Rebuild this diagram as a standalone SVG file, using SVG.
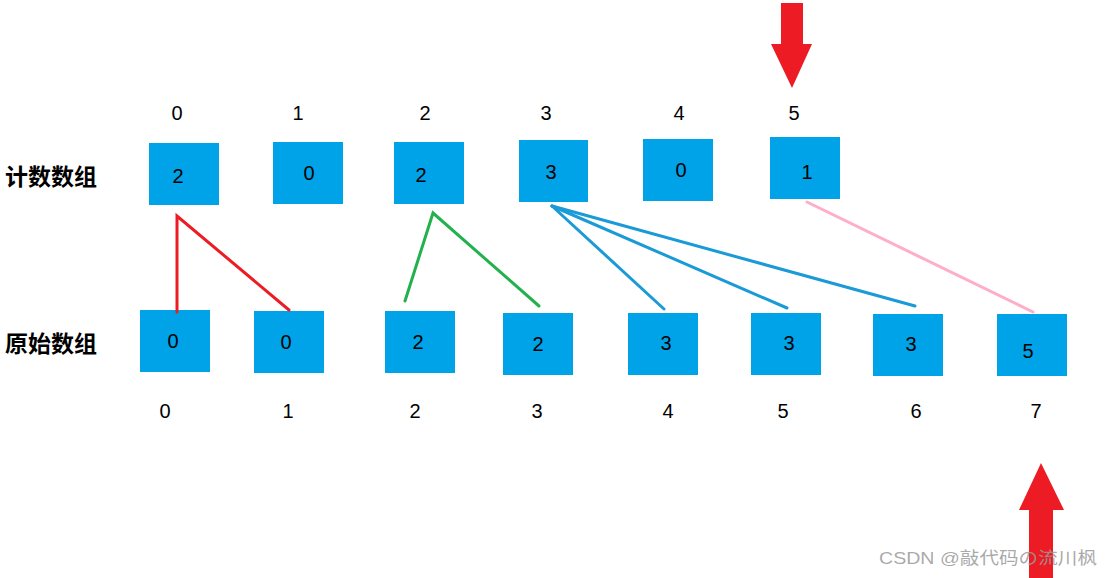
<svg xmlns="http://www.w3.org/2000/svg" width="1105" height="578" viewBox="0 0 1105 578">
<style>
.box{fill:#00A2E8}
.num{font-family:"Liberation Sans",Arial,sans-serif;font-size:20px;fill:#000;text-anchor:middle;dominant-baseline:central}
.lbl{font-family:"Noto Sans CJK SC","Liberation Sans",sans-serif;font-size:23px;font-weight:bold;fill:#000;dominant-baseline:central}
.ln{fill:none;stroke-width:3;stroke-linecap:round}
.arrow{fill:#ED1C24}
</style>
<rect width="1105" height="578" fill="#fff"/>
<g id="labels">
<text class="lbl" x="5" y="175">计数数组</text>
<text class="lbl" x="5" y="342">原始数组</text>
</g>
<g id="top-index">
<text class="num" x="177" y="113">0</text>
<text class="num" x="298" y="113">1</text>
<text class="num" x="425" y="113">2</text>
<text class="num" x="546" y="113">3</text>
<text class="num" x="679" y="113">4</text>
<text class="num" x="794" y="113">5</text>
</g>
<g id="count0"><rect class="box" x="149" y="143" width="70" height="62"/><text class="num" x="178" y="176">2</text></g>
<g id="count1"><rect class="box" x="273" y="142" width="70" height="62"/><text class="num" x="309" y="173">0</text></g>
<g id="count2"><rect class="box" x="394" y="142" width="70" height="62"/><text class="num" x="421" y="175">2</text></g>
<g id="count3"><rect class="box" x="519" y="140" width="69" height="62"/><text class="num" x="551" y="172">3</text></g>
<g id="count4"><rect class="box" x="643" y="139" width="70" height="62"/><text class="num" x="681" y="170">0</text></g>
<g id="count5"><rect class="box" x="770" y="137" width="70" height="62"/><text class="num" x="807" y="172">1</text></g>
<g id="orig0"><rect class="box" x="140" y="310" width="70" height="62"/><text class="num" x="173" y="341">0</text></g>
<g id="orig1"><rect class="box" x="254" y="311" width="70" height="62"/><text class="num" x="286" y="342">0</text></g>
<g id="orig2"><rect class="box" x="385" y="311" width="70" height="62"/><text class="num" x="418" y="342">2</text></g>
<g id="orig3"><rect class="box" x="503" y="313" width="70" height="62"/><text class="num" x="538" y="344">2</text></g>
<g id="orig4"><rect class="box" x="628" y="313" width="70" height="62"/><text class="num" x="666" y="343">3</text></g>
<g id="orig5"><rect class="box" x="751" y="313" width="70" height="62"/><text class="num" x="789" y="343">3</text></g>
<g id="orig6"><rect class="box" x="873" y="314" width="70" height="62"/><text class="num" x="911" y="344">3</text></g>
<g id="orig7"><rect class="box" x="997" y="314" width="70" height="62"/><text class="num" x="1028" y="351">5</text></g>
<g id="bottom-index">
<text class="num" x="165" y="411">0</text>
<text class="num" x="288" y="411">1</text>
<text class="num" x="415" y="411">2</text>
<text class="num" x="537" y="411">3</text>
<text class="num" x="668" y="411">4</text>
<text class="num" x="783" y="411">5</text>
<text class="num" x="916" y="411">6</text>
<text class="num" x="1036" y="411">7</text>
</g>
<g id="connectors">
<polyline class="ln" stroke="#ED1C24" points="177,312 177,216 289,310"/>
<polyline class="ln" stroke="#22B14C" points="405,301 433,213 539,306"/>
<line class="ln" stroke="#1A9AD6" x1="552" y1="206" x2="664" y2="309"/>
<line class="ln" stroke="#1A9AD6" x1="552" y1="206" x2="787" y2="308"/>
<line class="ln" stroke="#1A9AD6" x1="552" y1="206" x2="915" y2="306"/>
<line class="ln" stroke="#FFAEC9" x1="807" y1="202" x2="1033" y2="312"/>
</g>
<g id="arrow-down"><polygon class="arrow" points="781,3 803,3 803,44 812,44 792,88 771,44 781,44"/></g>
<g id="arrow-up"><polygon class="arrow" points="1041,463 1064,510 1053,510 1053,578 1029,578 1029,510 1019,510"/></g>
<g id="watermark"><text x="879" y="564" font-family="'Liberation Sans','Noto Sans CJK SC',sans-serif" font-size="17" fill="#9a9a9a" fill-opacity="0.85" textLength="218" lengthAdjust="spacingAndGlyphs">CSDN @敲代码の流川枫</text></g>
</svg>
